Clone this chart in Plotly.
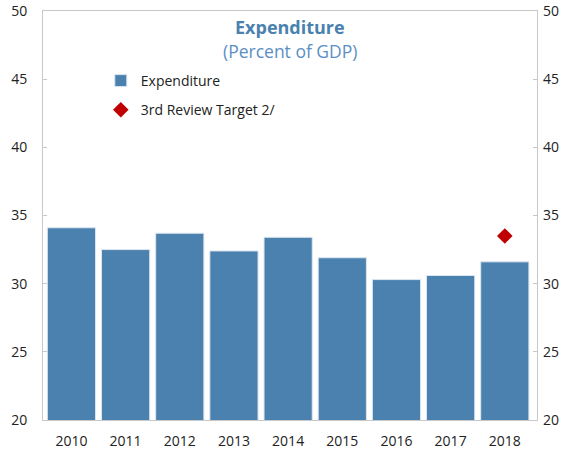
import plotly.graph_objects as go

years = ["2010", "2011", "2012", "2013", "2014", "2015", "2016", "2017", "2018"]
expenditure = [34.1, 32.5, 33.7, 32.4, 33.4, 31.9, 30.3, 30.6, 31.6]
target_years = ["2018"]
target_values = [33.5]

FONT = "Open Sans"
BLUE = "#4A81AF"

fig = go.Figure()
fig.add_trace(go.Bar(
    x=years, y=expenditure, name="Expenditure",
    marker=dict(color=BLUE, line=dict(color="#DCE6F0", width=1)),
    legendgroup="a",
))
fig.add_trace(go.Scatter(
    x=target_years, y=target_values, name="3rd Review Target 2/",
    mode="markers", marker=dict(symbol="diamond", color="#C00000", size=12),
    legendgroup="b",
))
fig.add_trace(go.Scatter(
    x=years, y=[None] * len(years), yaxis="y2", showlegend=False,
    hoverinfo="skip", mode="markers",
))

axis_common = dict(range=[20, 50], tickvals=[20, 25, 30, 35, 40, 45, 50],
                   showgrid=False, zeroline=False, ticks="inside", ticklen=4,
                   tickcolor="#C8C8C8", automargin=False,
                   tickfont=dict(family=FONT, size=14, color="#222"))

top_px, bot_px = 11, 420
def py(ypx):
    return (bot_px - ypx) / (bot_px - top_px)

fig.update_layout(
    width=571, height=451,
    margin=dict(l=43, r=34, t=top_px, b=451 - bot_px),
    paper_bgcolor="white", plot_bgcolor="white",
    bargap=0.11,
    showlegend=True,
    legend=dict(x=0.117, y=py(65), xanchor="left", yanchor="top",
                font=dict(family=FONT, size=14, color="#222"),
                bgcolor="rgba(0,0,0,0)", tracegroupgap=8, itemwidth=30),
    xaxis=dict(showline=True, mirror=True, linecolor="#C8C8C8", ticks="",
               automargin=False, ticklabelstandoff=8,
               tickfont=dict(family=FONT, size=14, color="#222")),
    yaxis=dict(showline=True, mirror=True, linecolor="#C8C8C8", side="left",
               ticklabelstandoff=12, **axis_common),
    yaxis2=dict(overlaying="y", side="right", showline=False,
                ticklabelstandoff=5, **axis_common),
    annotations=[
        dict(text="<b>Expenditure</b>", x=0.5, y=py(27), xref="paper", yref="paper",
             yanchor="middle", showarrow=False,
             font=dict(family=FONT, size=18, color=BLUE)),
        dict(text="(Percent of GDP)", x=0.5, y=py(51), xref="paper", yref="paper",
             yanchor="middle", showarrow=False,
             font=dict(family=FONT, size=17.5, color="#5B8FC4")),
    ],
)

fig.write_html("out.html", config={"displayModeBar": False},
               post_script="document.body.style.margin='0';document.body.style.overflow='hidden';")
